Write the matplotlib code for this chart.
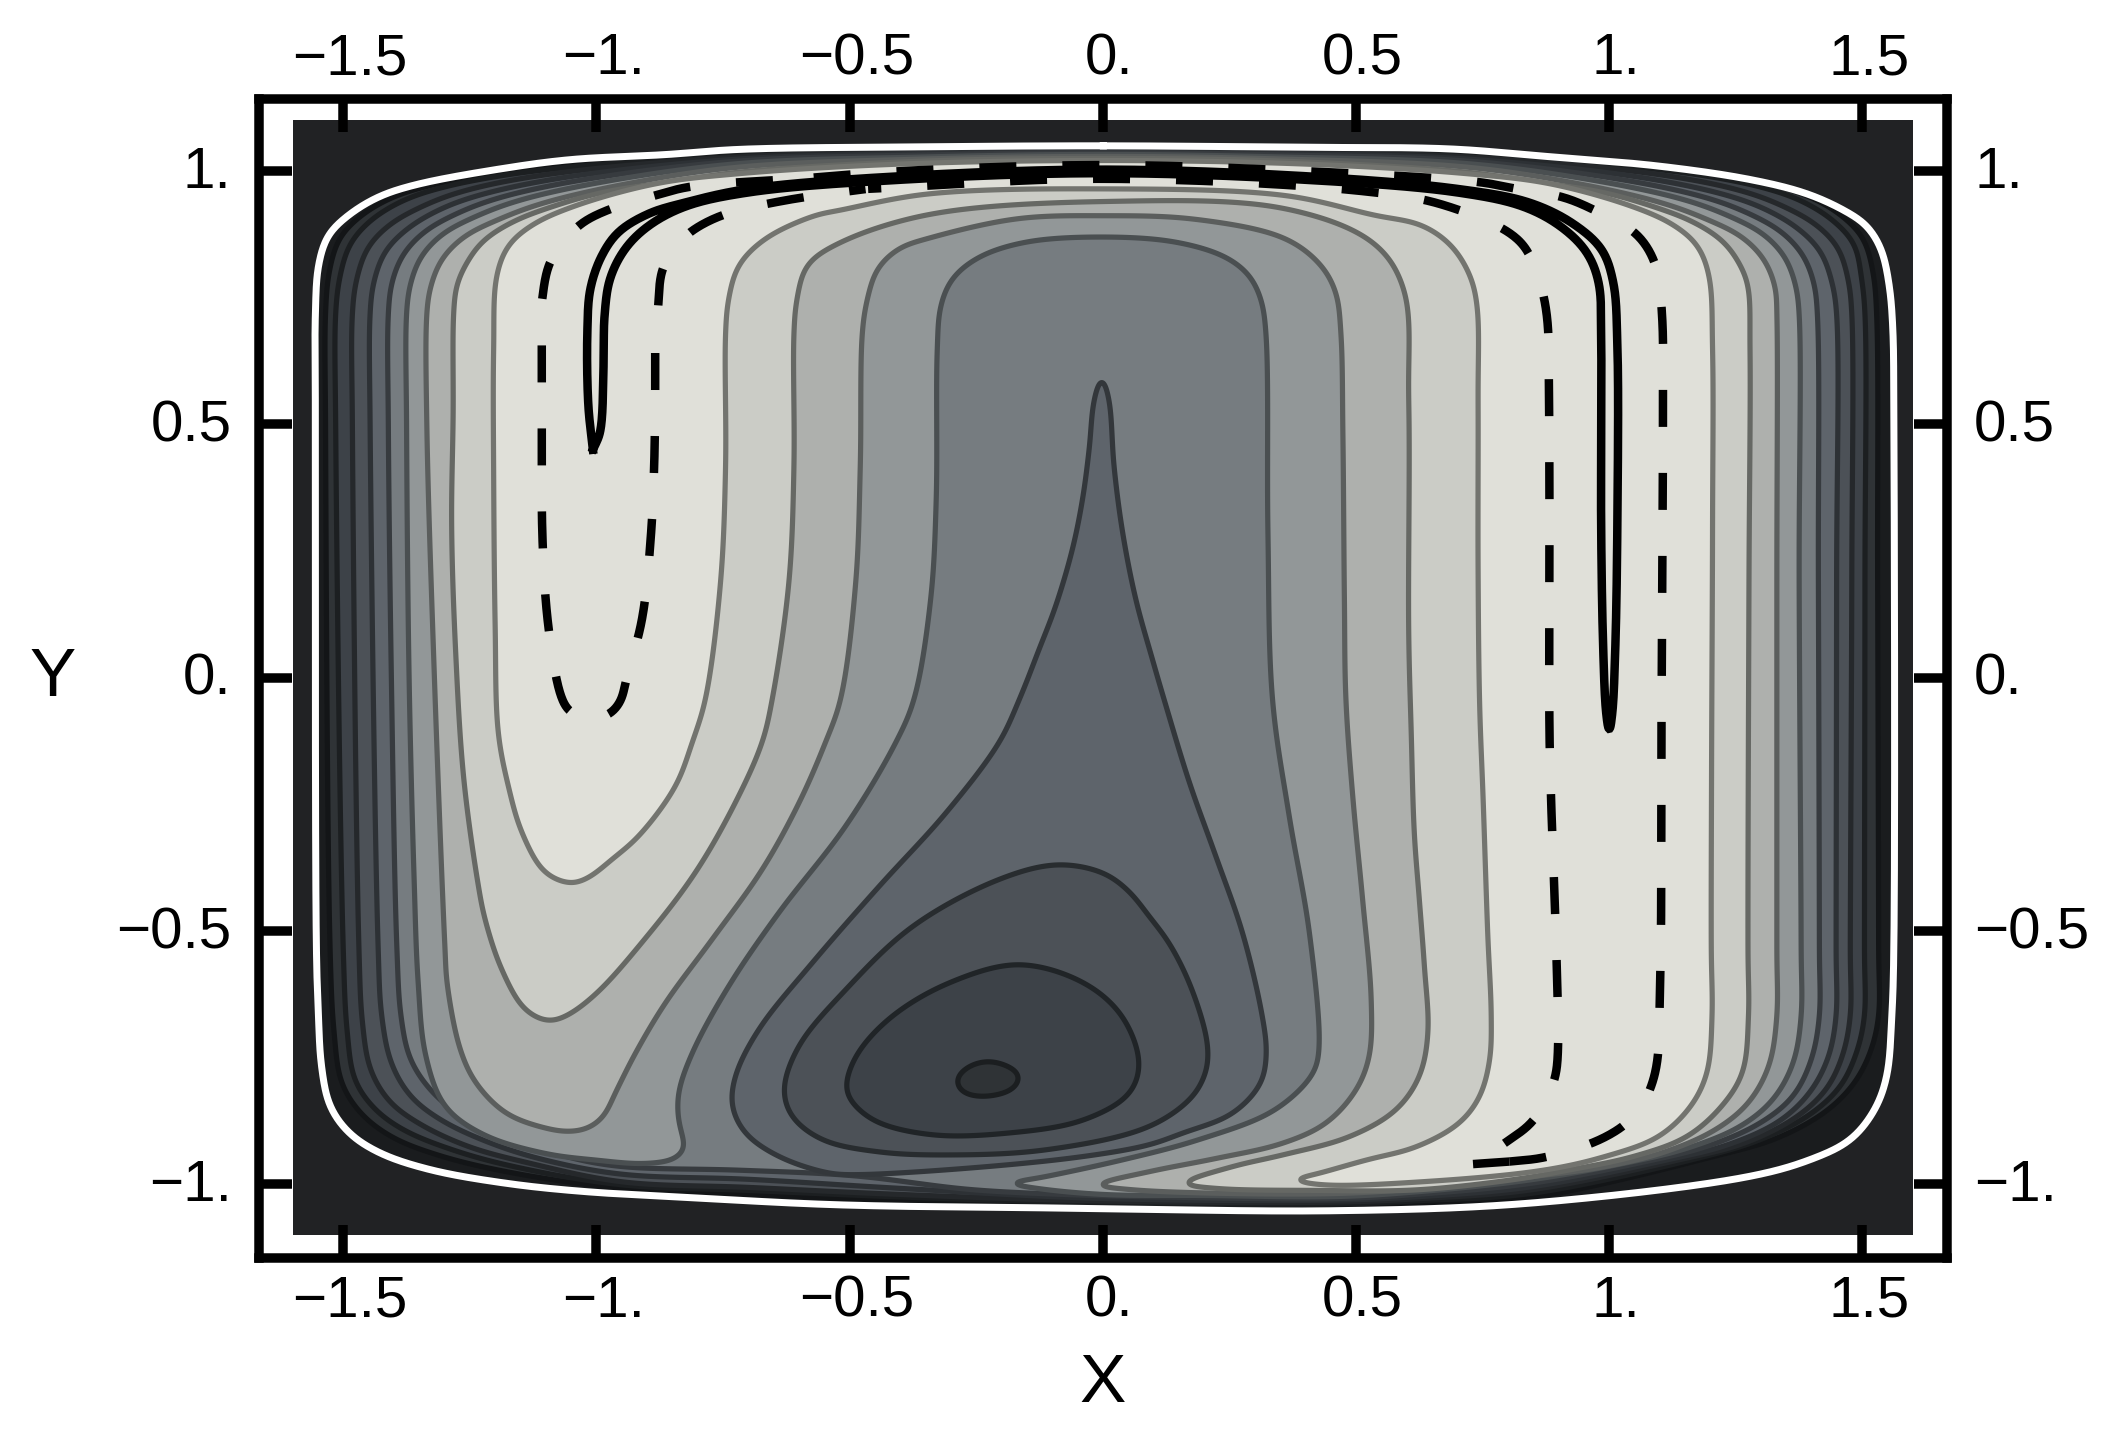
import numpy as np
import matplotlib
matplotlib.use('Agg')
import matplotlib.pyplot as plt
from matplotlib.patches import Rectangle
from matplotlib.transforms import ScaledTranslation

plt.rcParams['font.family'] = ['Liberation Sans', 'DejaVu Sans']

x_ticks = [-1.5, -1.0, -0.5, 0.0, 0.5, 1.0, 1.5]
x_labels = ['\u22121.5', '\u22121.', '\u22120.5', '0.', '0.5', '1.', '1.5']
y_ticks = [-1.0, -0.5, 0.0, 0.5, 1.0]
y_labels = ['\u22121.', '\u22120.5', '0.', '0.5', '1.']

band_colors = ['#1a1c1e', '#2f3336', '#3d4248', '#4c5157', '#5e646b', '#767c80', '#929798', '#aeb0ad', '#cbccc6', '#e0e0d9']

# outer edge and the closed shells
edge = [(0,1.05),(.40,1.047),(.684,1.044),(.864,1.03),(1.098,1.01),(1.281,.983),(1.39,.9556),(1.4637,.9226),(1.5075,.893),(1.5366,.847),(1.553,.774),(1.56,.689),(1.562,.524),(1.562,-.537),(1.558,-.668),(1.548,-.787),(1.524,-.853),(1.476,-.912),(1.395,-.952),(1.274,-.985),(.846,-1.037),(.467,-1.052),(-.061,-1.047),(-.521,-1.0405),(-.8,-1.027),(-1.027,-1.014),(-1.178,-.998),(-1.329,-.971),(-1.428,-.938),(-1.488,-.899),(-1.526,-.846),(-1.543,-.767),(-1.549,-.668),(-1.553,-.537),(-1.555,.5),(-1.555,.722),(-1.549,.814),(-1.530,.873),(-1.490,.913),(-1.431,.949),(-1.358,.973),(-1.180,1.006),(-1.049,1.023),(-.864,1.0326),(-.719,1.043),(-.35,1.048)]
shell_1 = [(0,1.047),(.35,1.044),(.719,1.036),(1.165,1.001),(1.332,.970),(1.405,.945),(1.464,.908),(1.502,.866),(1.521,.80),(1.528,.72),(1.53,.2),(1.532,-.537),(1.532,-.668),(1.516,-.738),(1.484,-.800),(1.428,-.856),(1.331,-.909),(1.210,-.944),(.846,-1.026),(.629,-1.037),(.467,-1.044),(0,-1.042),(-.4,-1.032),(-.7,-1.02),(-.951,-1.008),(-1.178,-.975),(-1.314,-.942),(-1.405,-.906),(-1.465,-.860),(-1.503,-.800),(-1.518,-.701),(-1.526,-.537),(-1.535,.5),(-1.535,.72),(-1.528,.80),(-1.508,.866),(-1.470,.908),(-1.410,.945),(-1.335,.970),(-1.165,1.001),(-.719,1.036),(-.35,1.044)]
shell_2 = [(0,1.045),(.35,1.041),(.719,1.032),(1.14,.998),(1.313,.965),(1.386,.938),(1.445,.90),(1.484,.855),(1.498,.79),(1.505,.72),(1.505,.2),(1.504,-.537),(1.504,-.668),(1.488,-.741),(1.456,-.807),(1.395,-.863),(1.298,-.912),(1.177,-.948),(.846,-1.018),(.629,-1.032),(.467,-1.039),(0,-1.037),(-.4,-1.025),(-.7,-1.012),(-.951,-1.001),(-1.163,-.965),(-1.284,-.932),(-1.382,-.892),(-1.439,-.850),(-1.477,-.794),(-1.492,-.701),(-1.500,-.537),(-1.515,.5),(-1.515,.72),(-1.507,.79),(-1.487,.855),(-1.449,.90),(-1.39,.938),(-1.315,.965),(-1.14,.998),(-.719,1.032),(-.35,1.041)]
shell_3 = [(0,1.042),(.35,1.038),(.719,1.028),(1.10,.993),(1.265,.96),(1.345,.93),(1.41,.893),(1.452,.848),(1.472,.785),(1.479,.72),(1.479,.2),(1.476,-.537),(1.476,-.668),(1.460,-.748),(1.428,-.813),(1.367,-.869),(1.266,-.919),(1.145,-.950),(.846,-1.011),(.629,-1.028),(.467,-1.035),(0,-1.033),(-.4,-1.02),(-.7,-1.006),(-.951,-.995),(-1.133,-.958),(-1.254,-.925),(-1.352,-.879),(-1.409,-.836),(-1.446,-.774),(-1.462,-.682),(-1.469,-.537),(-1.482,.5),(-1.482,.72),(-1.474,.785),(-1.452,.848),(-1.41,.893),(-1.345,.93),(-1.265,.96),(-1.10,.993),(-.719,1.028),(-.35,1.038)]
shell_4 = [(0,1.039),(.35,1.035),(.719,1.024),(1.06,.988),(1.23,.953),(1.31,.924),(1.375,.885),(1.418,.84),(1.44,.78),(1.449,.72),(1.449,.2),(1.448,-.537),(1.448,-.668),(1.432,-.751),(1.395,-.820),(1.335,-.876),(1.234,-.922),(1.113,-.952),(.846,-1.005),(.629,-1.024),(.467,-1.031),(0,-1.028),(-.4,-1.008),(-.7,-.99),(-.951,-.98),(-1.102,-.952),(-1.208,-.919),(-1.307,-.873),(-1.367,-.826),(-1.405,-.761),(-1.424,-.668),(-1.431,-.537),(-1.447,.5),(-1.447,.72),(-1.44,.78),(-1.418,.84),(-1.375,.885),(-1.31,.924),(-1.23,.953),(-1.06,.988),(-.719,1.024),(-.35,1.035)]
shell_5 = [(0,1.036),(.35,1.032),(.719,1.02),(1.02,.984),(1.19,.948),(1.272,.918),(1.34,.88),(1.382,.835),(1.404,.78),(1.411,.72),(1.413,.2),(1.415,-.537),(1.415,-.668),(1.399,-.754),(1.363,-.826),(1.298,-.879),(1.193,-.925),(1.072,-.955),(.846,-.998),(.629,-1.019),(.467,-1.028),(.114,-1.025),(-.076,-1.02),(-.265,-1.01),(-.492,-.983),(-.72,-.972),(-.95,-.965),(-1.049,-.948),(-1.163,-.912),(-1.254,-.873),(-1.322,-.820),(-1.367,-.754),(-1.386,-.668),(-1.394,-.537),(-1.405,0),(-1.411,.5),(-1.411,.72),(-1.404,.78),(-1.382,.835),(-1.34,.88),(-1.272,.918),(-1.19,.948),(-1.02,.984),(-.719,1.02),(-.35,1.032)]

# valley around the minimum
valley_5 = [(-.002,.592),(.012,.550),(.022,.418),(.039,.287),(.065,.155),(.098,.036),(.121,-.043),(.171,-.207),(.223,-.352),(.276,-.504),(.315,-.669),(.323,-.741),(.312,-.800),(.256,-.860),(.157,-.899),(.0915,-.922),(-.038,-.945),(-.265,-.968),(-.492,-.981),(-.541,-.978),(-.640,-.945),(-.706,-.899),(-.732,-.846),(-.726,-.787),(-.680,-.695),(-.574,-.563),(-.442,-.412),(-.310,-.267),(-.205,-.128),(-.165,-.043),(-.126,.056),(-.093,.142),(-.060,.254),(-.040,.353),(-.027,.451),(-.017,.550)]
valley_4 = [(-.09,-.369),(0,-.385),(.05,-.42),(.0915,-.471),(.131,-.524),(.171,-.603),(.203,-.702),(.208,-.747),(.203,-.78),(.177,-.827),(.0915,-.886),(-.113,-.932),(-.310,-.942),(-.442,-.936),(-.554,-.912),(-.614,-.866),(-.630,-.814),(-.601,-.728),(-.508,-.616),(-.376,-.491),(-.205,-.398)]
valley_3 = [(-.166,-.566),(-.038,-.602),(.038,-.668),(.072,-.761),(.053,-.820),(-.038,-.873),(-.189,-.899),(-.340,-.902),(-.454,-.873),(-.503,-.827),(-.507,-.800),(-.484,-.741),(-.416,-.668),(-.303,-.602)]
valley_2 = [(-.219,-.757),(-.163,-.784),(-.174,-.810),(-.235,-.827),(-.280,-.817),(-.291,-.794),(-.265,-.767)]

# horseshoe regions, open towards the bottom
ridge_6 = [(-.825,-.929),(-.844,-.949),(-.904,-.959),(-1.002,-.952),(-1.102,-.939),(-1.223,-.902),(-1.299,-.846),(-1.337,-.747),(-1.352,-.603),(-1.36,-.40),(-1.37,0),(-1.375,.5),(-1.375,.72),(-1.368,.775),(-1.347,.83),(-1.305,.875),(-1.235,.912),(-1.15,.943),(-.98,.98),(-.719,1.015),(-.35,1.028),(0,1.033),(.35,1.028),(.719,1.015),(.98,.98),(1.15,.943),(1.235,.912),(1.305,.875),(1.347,.83),(1.368,.775),(1.375,.72),(1.375,.2),(1.379,-.537),(1.379,-.668),(1.363,-.761),(1.323,-.833),(1.258,-.886),(1.153,-.929),(1.032,-.958),(.846,-.991),(.629,-1.014),(.467,-1.024),(.2,-1.022),(0,-1.02),(-.13,-1.008),(-.18,-.998),(-.114,-.985),(.0376,-.952),(.189,-.912),(.340,-.853),(.416,-.780),(.427,-.734),(.408,-.504),(.368,-.273),(.335,-.043),(.326,.287),(.322,.682),(.312,.748),(.289,.794),(.243,.830),(.144,.860),(0,.870),(-.152,.860),(-.245,.830),(-.297,.788),(-.320,.735),(-.327,.649),(-.329,.353),(-.340,.155),(-.373,-.043),(-.409,-.128),(-.508,-.293),(-.640,-.464),(-.739,-.609),(-.811,-.741),(-.838,-.820),(-.838,-.873),(-.828,-.912)]
ridge_7 = [(-.963,-.820),(-.986,-.866),(-1.016,-.889),(-1.055,-.896),(-1.101,-.889),(-1.178,-.860),(-1.238,-.800),(-1.269,-.734),(-1.295,-.603),(-1.299,-.537),(-1.32,0),(-1.335,.5),(-1.335,.72),(-1.328,.77),(-1.306,.825),(-1.262,.87),(-1.19,.906),(-1.105,.937),(-.94,.975),(-.719,1.008),(-.35,1.024),(0,1.029),(.35,1.024),(.719,1.008),(.94,.975),(1.105,.937),(1.19,.906),(1.262,.87),(1.306,.825),(1.328,.77),(1.331,.72),(1.331,.2),(1.331,-.537),(1.331,-.668),(1.315,-.767),(1.274,-.840),(1.210,-.892),(1.113,-.935),(.992,-.965),(.846,-.985),(.629,-1.008),(.467,-1.018),(.2,-1.017),(.05,-1.01),(-.01,-1.001),(.0915,-.975),(.223,-.949),(.355,-.919),(.441,-.879),(.500,-.814),(.526,-.748),(.530,-.636),(.513,-.438),(.494,-.240),(.480,-.043),(.477,.155),(.474,.484),(.470,.682),(.460,.761),(.43,.815),(.36,.867),(.183,.905),(0,.912),(-.17,.906),(-.346,.867),(-.403,.847),(-.445,.807),(-.465,.748),(-.475,.682),(-.479,.418),(-.488,.188),(-.518,-.043),(-.548,-.128),(-.600,-.247),(-.673,-.379),(-.772,-.517),(-.864,-.642),(-.923,-.741)]
ridge_8 = [(-1.095,-.678),(-1.141,-.655),(-1.187,-.576),(-1.220,-.477),(-1.233,-.412),(-1.262,-.2),(-1.278,.05),(-1.286,.3),(-1.283,.52),(-1.282,.721),(-1.276,.774),(-1.259,.814),(-1.226,.860),(-1.167,.899),(-1.081,.932),(-.983,.959),(-.851,.979),(-.719,.998),(-.35,1.02),(0,1.025),(.35,1.02),(.719,.998),(.851,.979),(.983,.959),(1.081,.932),(1.167,.899),(1.226,.860),(1.259,.814),(1.274,.774),(1.278,.65),(1.276,.2),(1.274,-.537),(1.275,-.668),(1.263,-.780),(1.222,-.846),(1.153,-.906),(1.048,-.945),(.919,-.972),(.816,-.990),(.619,-1.011),(.421,-1.012),(.223,-1.008),(.16,-.998),(.256,-.965),(.355,-.942),(.487,-.906),(.579,-.853),(.625,-.787),(.642,-.702),(.635,-.570),(.625,-.438),(.615,-.306),(.609,-.109),(.604,.089),(.604,.55),(.594,.768),(.536,.857),(.36,.926),(0,.940),(-.346,.914),(-.523,.857),(-.584,.814),(-.604,.748),(-.610,.682),(-.610,.418),(-.620,.188),(-.653,-.043),(-.673,-.128),(-.726,-.247),(-.805,-.385),(-.904,-.515),(-1.002,-.625),(-1.062,-.669)]
ridge_9 = [(-1.049,-.406),(-1.101,-.385),(-1.147,-.306),(-1.174,-.214),(-1.194,-.108),(-1.200,.10),(-1.203,.40),(-1.203,.65),(-1.197,.794),(-1.174,.853),(-1.128,.893),(-1.049,.929),(-.884,.975),(-.719,.995),(-.40,1.014),(0,1.021),(.40,1.014),(.719,.995),(.884,.975),(1.049,.929),(1.128,.893),(1.174,.853),(1.197,.794),(1.204,.65),(1.204,.3),(1.202,-.20),(1.2015,-.537),(1.203,-.668),(1.193,-.780),(1.161,-.846),(1.097,-.906),(.992,-.945),(.871,-.972),(.629,-.995),(.434,-1.001),(.38,-.991),(.428,-.978),(.520,-.952),(.619,-.926),(.704,-.879),(.744,-.827),(.764,-.754),(.767,-.669),(.760,-.504),(.751,-.240),(.744,-.05),(.741,.22),(.741,.55),(.739,.735),(.725,.794),(.688,.853),(.630,.893),(.536,.913),(.36,.952),(0,.965),(-.346,.955),(-.523,.922),(-.567,.913),(-.666,.867),(-.719,.814),(-.739,.748),(-.745,.682),(-.745,.418),(-.755,.188),(-.785,-.043),(-.811,-.128),(-.844,-.214),(-.917,-.313),(-.97,-.359),(-1.016,-.395)]

# black solid and dashed contours
solid_line = [(-1.007,.45),(-1.016,.537),(-1.018,.682),(-1.012,.768),(-.989,.834),(-.956,.880),(-.897,.916),(-.825,.938),(-.70,.965),(-.40,.99),(0,1.003),(.40,.99),(.70,.965),(.842,.938),(.929,.896),(.985,.845),(1.008,.78),(1.016,.66),(1.016,.30),(1.012,.06),(1.006,-.07),(1.0,-.105),(.994,-.07),(.988,.06),(.984,.30),(.984,.66),(.979,.78),(.955,.84),(.905,.89),(.83,.93),(.70,.958),(.40,.983),(0,.996),(-.40,.983),(-.70,.958),(-.825,.93),(-.897,.892),(-.943,.847),(-.973,.788),(-.984,.715),(-.986,.616),(-.993,.484),(-1.007,.45)]
dash_tip = [(.731,-.960),(.803,-.955)]
dash_outer_top = [(.803,-.955),(.872,-.947),(.994,-.906),(1.054,-.86),(1.090,-.784),(1.10,-.622),(1.103,-.128),(1.106,.524),(1.104,.721),(1.091,.817),(1.054,.876),(.973,.922),(.908,.949),(.816,.965),(.747,.978),(.40,1.0),(0,1.012),(-.40,1.0),(-.60,.985)]
dash_outer_corner = [(-1.107,.748),(-1.101,.79),(-1.09,.825),(-1.035,.893),(-.976,.924),(-.884,.952),(-.818,.969),(-.60,.985)]
dash_outer_leg = [(-1.108,.656),(-1.108,.451),(-1.107,.287),(-1.098,.128),(-1.079,-.003),(-1.068,-.043),(-1.056,-.066),(-1.015,-.085)]
dash_inner_top = [(.793,-.919),(.849,-.876),(.892,-.794),(.899,-.728),(.897,-.596),(.892,-.431),(.886,-.267),(.882,-.108),(.882,.30),(.881,.55),(.877,.715),(.86,.79),(.823,.863),(.677,.932),(.519,.960),(0,.985),(-.466,.965)]
dash_inner_corner = [(-.878,.735),(-.871,.804),(-.845,.85),(-.815,.880),(-.752,.913),(-.629,.942),(-.466,.965)]
dash_inner_leg = [(-.884,.641),(-.884,.55),(-.886,.42),(-.892,.287),(-.910,.115),(-.943,-.010),(-.950,-.043),(-.973,-.072),(-1.015,-.085)]

px = 72 / 100.0


def smooth(points, closed=True, n=10, sigma=0.015):
    # centripetal catmull-rom through the points that were read
    p = np.array(points, dtype=float)
    if closed:
        p = np.vstack([p[-1], p, p[0], p[1]])
    else:
        p = np.vstack([2 * p[0] - p[1], p, 2 * p[-1] - p[-2]])
    out = []
    for i in range(1, len(p) - 2):
        p0, p1, p2, p3 = p[i - 1], p[i], p[i + 1], p[i + 2]
        t0 = 0.0
        t1 = t0 + np.linalg.norm(p1 - p0) ** 0.5 + 1e-6
        t2 = t1 + np.linalg.norm(p2 - p1) ** 0.5 + 1e-6
        t3 = t2 + np.linalg.norm(p3 - p2) ** 0.5 + 1e-6
        for t in np.linspace(t1, t2, n, endpoint=False):
            a1 = ((t1 - t) * p0 + (t - t0) * p1) / (t1 - t0)
            a2 = ((t2 - t) * p1 + (t - t1) * p2) / (t2 - t1)
            a3 = ((t3 - t) * p2 + (t - t2) * p3) / (t3 - t2)
            b1 = ((t2 - t) * a1 + (t - t0) * a2) / (t2 - t0)
            b2 = ((t3 - t) * a2 + (t - t1) * a3) / (t3 - t1)
            out.append(((t2 - t) * b1 + (t - t1) * b2) / (t2 - t1))
    out.append(out[0] if closed else p[-2])
    c = np.array(out)
    # even steps along the curve, then a light blur to take out reading jitter
    s = np.concatenate([[0], np.cumsum(np.hypot(*np.diff(c, axis=0).T))])
    step = 0.003
    u = np.arange(0, s[-1], step)
    c = np.column_stack([np.interp(u, s, c[:, 0]), np.interp(u, s, c[:, 1])])
    if sigma > 0:
        w = int(4 * sigma / step)
        k = np.exp(-0.5 * (np.arange(-w, w + 1) * step / sigma) ** 2)
        k = k / k.sum()
        if closed:
            pad = np.vstack([c[-w:], c, c[:w]])
        else:
            pad = np.pad(c, ((w, w), (0, 0)), mode='reflect', reflect_type='odd')
        c = np.column_stack([np.convolve(pad[:, 0], k, mode='valid'), np.convolve(pad[:, 1], k, mode='valid')])
    if closed:
        c = np.vstack([c, c[0]])
    return c


fig = plt.figure(figsize=(21.13, 14.32), dpi=100)
ax = fig.add_axes([258.7 / 2113, 1 - 1258.3 / 1432, (1947 - 258.7) / 2113, (1258.3 - 98.7) / 1432])
ax.set_xlim(-1.667, 1.667)
ax.set_ylim(-1.146, 1.143)

ax.add_patch(Rectangle((-1.6, -1.1), 3.2, 2.2, facecolor='#212224', edgecolor='none', zorder=1))


def region(points, fill, line, lw=5.2):
    c = smooth(points)
    ax.fill(c[:, 0], c[:, 1], facecolor=fill, edgecolor=line, linewidth=lw * px, joinstyle='round', zorder=2)


region(edge, band_colors[0], 'none', lw=0)
region(shell_1, band_colors[1], '#131517')
region(shell_2, band_colors[2], '#1c1f21')
region(shell_3, band_colors[3], '#25282b')
region(shell_4, band_colors[4], '#2d3135')
region(shell_5, band_colors[5], '#373b3f')
region(valley_5, band_colors[4], '#33373b')
region(valley_4, band_colors[3], '#282c2f')
region(valley_3, band_colors[2], '#202427')
region(valley_2, band_colors[1], '#1b1e20')
region(ridge_6, band_colors[6], '#4a4f51')
region(ridge_7, band_colors[7], '#5b5e5d')
region(ridge_8, band_colors[8], '#666864')
region(ridge_9, band_colors[9], '#73746f')

c = smooth(edge)
ax.plot(c[:, 0], c[:, 1], color='white', lw=7 * px, zorder=2.5)

c = smooth(solid_line, closed=False, sigma=0.006)
ax.plot(c[:, 0], c[:, 1], color='black', lw=8.5 * px, solid_joinstyle='miter', zorder=3)
ax.plot(*zip(*dash_tip), color='black', lw=8.5 * px, solid_capstyle='butt', zorder=3)
for line in (dash_outer_top, dash_outer_corner, dash_outer_leg, dash_inner_top, dash_inner_corner, dash_inner_leg):
    c = smooth(line, closed=False)
    ax.plot(c[:, 0], c[:, 1], color='black', lw=8.5 * px, dashes=(37 / 8.5, 46 / 8.5), dash_capstyle='butt', zorder=3)

for spine in ax.spines.values():
    spine.set_linewidth(9.5 * px)
    spine.set_zorder(6)

ax.set_xticks(x_ticks)
ax.set_xticklabels(x_labels)
ax.set_yticks(y_ticks)
ax.set_yticklabels(y_labels)
ax.tick_params(axis='both', direction='in', length=33 * px, width=9.5 * px, labelsize=42, top=True, right=True, labeltop=True, labelright=True, zorder=5)
ax.xaxis.set_tick_params(pad=12)
ax.yaxis.set_tick_params(pad=19.5)
ax.set_axisbelow(False)

# labels sit a little off the ticks in the reference
dx = ScaledTranslation(6.7 / 100, 0, fig.dpi_scale_trans)
dy = ScaledTranslation(0, 4 / 100, fig.dpi_scale_trans)
top_dy = ScaledTranslation(0, -4.3 / 100, fig.dpi_scale_trans)
for t in ax.xaxis.get_major_ticks():
    t.label1.set_transform(t.label1.get_transform() + dx)
    t.label2.set_transform(t.label2.get_transform() + dx + top_dy)
for t in ax.yaxis.get_major_ticks():
    t.label1.set_transform(t.label1.get_transform() + dy)
    t.label2.set_transform(t.label2.get_transform() + dy)

ax.set_xlabel('X', fontsize=50)
ax.set_ylabel('Y', fontsize=50, rotation=0, va='center', ha='center')
ax.xaxis.set_label_coords(0.5, -0.081)
ax.yaxis.set_label_coords(-0.122, 0.5)

fig.savefig('out.png', dpi=100)
